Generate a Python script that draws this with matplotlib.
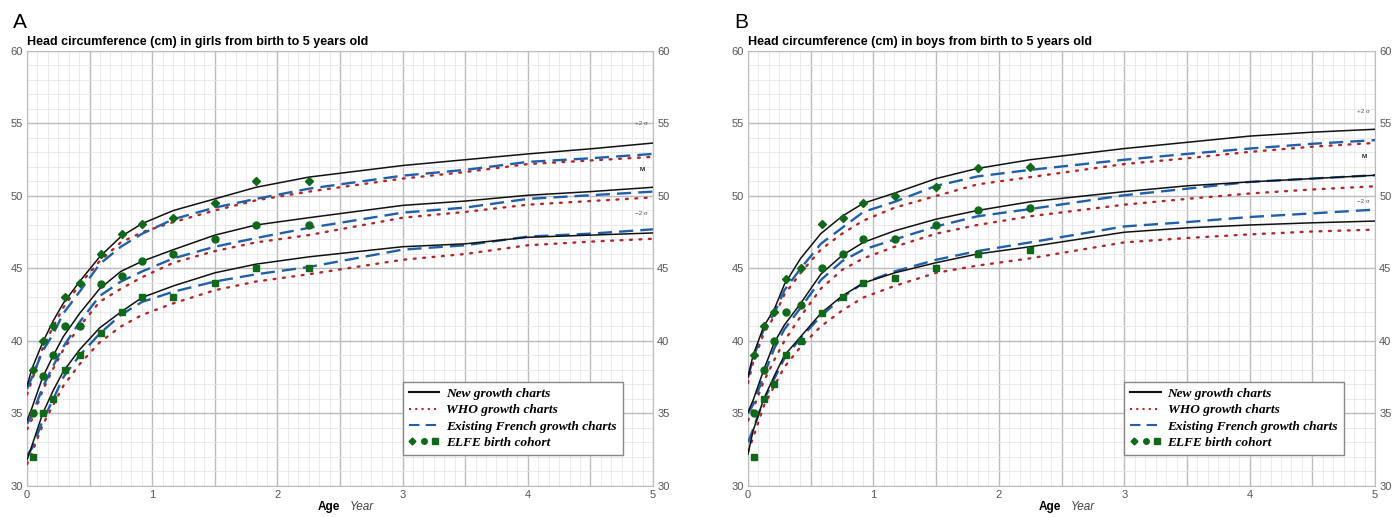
import matplotlib
matplotlib.use('Agg')
import matplotlib.pyplot as plt
from matplotlib.lines import Line2D
from matplotlib.legend_handler import HandlerTuple
from matplotlib.ticker import MultipleLocator, FuncFormatter

plt.rcParams['font.family'] = ['Liberation Sans', 'DejaVu Sans']

# ages (years) where the curves were read
AGES = [0, 0.04, 0.125, 0.21, 0.29, 0.42, 0.58, 0.75, 0.92, 1.17, 1.5, 1.83, 2.25, 3, 3.5, 4, 4.5, 5]

# girls: +2 SD, median, -2 SD
GIRLS_NEW_HI = [36.9, 38.1, 39.9, 41.4, 42.6, 44.1, 45.8, 47.2, 48.1, 49.0, 49.8, 50.6, 51.3, 52.1, 52.5, 52.9, 53.25, 53.65]
GIRLS_NEW_MED = [34.5, 35.4, 37.5, 39.0, 40.3, 41.9, 43.6, 44.8, 45.5, 46.3, 47.3, 48.0, 48.5, 49.35, 49.65, 50.05, 50.3, 50.6]
GIRLS_NEW_LO = [31.8, 32.8, 35.0, 36.6, 37.9, 39.4, 40.9, 42.0, 43.0, 43.8, 44.7, 45.3, 45.8, 46.5, 46.7, 47.15, 47.3, 47.45]
GIRLS_WHO_HI = [36.3, 37.3, 39.5, 41.0, 42.3, 43.9, 45.5, 46.8, 47.5, 48.2, 49.0, 49.7, 50.3, 51.2, 51.65, 52.2, 52.45, 52.7]
GIRLS_WHO_MED = [33.9, 34.6, 36.6, 38.1, 39.4, 41.0, 42.7, 43.6, 44.4, 45.4, 46.2, 46.8, 47.3, 48.5, 48.9, 49.4, 49.65, 49.9]
GIRLS_WHO_LO = [31.5, 32.3, 34.2, 35.6, 36.9, 38.4, 39.9, 41.0, 41.8, 42.6, 43.5, 44.1, 44.6, 45.6, 46.0, 46.6, 46.85, 47.05]
GIRLS_FR_HI = [36.7, 37.5, 39.3, 40.5, 41.9, 43.4, 45.3, 46.5, 47.4, 48.4, 49.2, 49.8, 50.5, 51.4, 51.8, 52.35, 52.6, 52.9]
GIRLS_FR_MED = [34.3, 34.9, 36.8, 38.3, 39.6, 41.3, 43.1, 44.1, 44.8, 45.7, 46.5, 47.1, 47.8, 48.85, 49.2, 49.8, 50.05, 50.3]
GIRLS_FR_LO = [32.1, 32.6, 34.5, 36.0, 37.5, 39.0, 40.5, 41.8, 42.7, 43.4, 44.1, 44.6, 45.1, 46.3, 46.6, 47.2, 47.4, 47.7]

# boys
BOYS_NEW_HI = [37.5, 39.0, 41.0, 42.2, 43.9, 45.7, 47.4, 48.6, 49.5, 50.2, 51.2, 51.9, 52.5, 53.27, 53.7, 54.13, 54.4, 54.6]
BOYS_NEW_MED = [35.1, 35.9, 38.0, 39.9, 41.1, 42.6, 44.6, 45.9, 46.8, 47.6, 48.4, 49.0, 49.6, 50.3, 50.7, 50.97, 51.2, 51.43]
BOYS_NEW_LO = [32.2, 33.8, 36.0, 37.6, 39.0, 40.3, 41.9, 43.1, 44.0, 44.7, 45.4, 46.0, 46.5, 47.5, 47.8, 48.0, 48.15, 48.27]
BOYS_WHO_HI = [37.1, 38.5, 40.5, 41.7, 43.2, 44.7, 46.3, 47.4, 48.3, 49.2, 50.0, 50.8, 51.3, 52.2, 52.6, 53.04, 53.4, 53.66]
BOYS_WHO_MED = [34.5, 35.3, 37.2, 38.7, 40.0, 41.7, 43.6, 44.9, 45.7, 46.5, 47.4, 48.0, 48.6, 49.4, 49.8, 50.17, 50.45, 50.67]
BOYS_WHO_LO = [32.4, 33.3, 35.5, 36.9, 38.2, 39.6, 41.0, 42.1, 43.0, 43.8, 44.7, 45.2, 45.7, 46.8, 47.1, 47.35, 47.55, 47.68]
BOYS_FR_HI = [37.5, 38.8, 40.8, 41.9, 43.5, 45.0, 46.7, 47.8, 48.9, 49.6, 50.7, 51.35, 51.8, 52.5, 52.9, 53.27, 53.6, 53.85]
BOYS_FR_MED = [35.0, 35.6, 37.6, 39.5, 40.8, 42.3, 44.2, 45.5, 46.3, 47.0, 47.9, 48.6, 49.1, 50.05, 50.5, 50.97, 51.2, 51.43]
BOYS_FR_LO = [33.0, 33.9, 35.9, 37.4, 38.8, 40.2, 41.7, 43.0, 44.0, 44.8, 45.6, 46.2, 46.8, 47.9, 48.2, 48.55, 48.8, 49.06]

# ELFE birth cohort points
ELFE_AGES = [0.045, 0.128, 0.21, 0.30, 0.42, 0.59, 0.755, 0.92, 1.17, 1.5, 1.83, 2.25]
GIRLS_ELFE_HI = [38.0, 40.0, 41.0, 43.0, 44.0, 46.0, 47.4, 48.1, 48.5, 49.5, 51.0, 51.0]
GIRLS_ELFE_MED = [35.0, 37.6, 39.0, 41.0, 41.0, 43.9, 44.5, 45.5, 46.0, 47.0, 48.0, 48.0]
GIRLS_ELFE_LO = [32.0, 35.0, 36.0, 38.0, 39.0, 40.55, 42.0, 43.0, 43.0, 44.0, 45.0, 45.0]
BOYS_ELFE_HI = [39.0, 41.0, 42.0, 44.24, 45.0, 48.04, 48.5, 49.5, 50.0, 50.6, 51.96, 52.0]
BOYS_ELFE_MED = [35.0, 38.0, 40.0, 42.0, 42.5, 45.0, 46.0, 47.05, 47.05, 48.0, 49.0, 49.2]
BOYS_ELFE_LO = [32.0, 36.0, 37.0, 39.0, 40.0, 41.9, 43.0, 44.0, 44.35, 45.0, 46.0, 46.25]

BLACK = '#111111'
RED = '#b0272a'
BLUE = '#2160a8'
GREEN = '#10691a'


def draw_panel(ax, new, who, fr, elfe, title, letter, sigma_y):
    for y in who:
        ax.plot(AGES, y, color=RED, lw=1.7, linestyle=(0, (0.8, 3.2)),
                dash_capstyle='round', zorder=3)
    for y in fr:
        ax.plot(AGES, y, color=BLUE, lw=1.7, linestyle=(0, (6, 3)), zorder=4)
    for y in new:
        ax.plot(AGES, y, color=BLACK, lw=1.1, zorder=5)
    for y, m in zip(elfe, ['D', 'o', 's']):
        ax.plot(ELFE_AGES, y, linestyle='none', marker=m, color=GREEN,
                markersize=4.2 if m == 'D' else 5, zorder=6)

    ax.set_xlim(0, 5)
    ax.set_ylim(30, 60)
    ax.xaxis.set_major_locator(MultipleLocator(0.5))
    ax.xaxis.set_minor_locator(MultipleLocator(1 / 12))
    ax.yaxis.set_major_locator(MultipleLocator(5))
    ax.yaxis.set_minor_locator(MultipleLocator(1))
    ax.xaxis.set_major_formatter(FuncFormatter(
        lambda v, p: f'{int(round(v))}' if abs(v - round(v)) < 1e-6 else ''))
    ax.grid(which='major', color='#bcbcbc', lw=1.0)
    ax.grid(which='minor', color='#e6e6e6', lw=0.6)
    ax.set_axisbelow(True)
    ax.tick_params(which='both', length=0, labelsize=8, labelcolor='#555555',
                   labelright=True, pad=3)
    for s in ax.spines.values():
        s.set_color('#bdbdbd')

    ax.set_title(title, loc='left', fontsize=9, fontweight='bold', pad=4)
    ax.text(-0.022, 1.052, letter, transform=ax.transAxes, fontsize=15,
            va='baseline', ha='left')
    ax.text(0.5, -0.048, 'Age', transform=ax.transAxes, fontsize=8.5,
            fontweight='bold', ha='right', va='center')
    ax.text(0.515, -0.048, 'Year', transform=ax.transAxes, fontsize=8.5,
            style='italic', color='#444444', ha='left', va='center')

    for lab, yv, bold in zip(['+2 σ', 'M', '−2 σ'], sigma_y, [False, True, False]):
        ax.text(4.91, yv, lab, fontsize=4.5, color='#555555' if not bold else '#222222',
                fontweight='bold' if bold else 'normal', ha='center', va='center')

    handles = [
        Line2D([], [], color=BLACK, lw=1.5),
        Line2D([], [], color=RED, lw=1.5, linestyle=(0, (1, 2))),
        Line2D([], [], color=BLUE, lw=1.5, linestyle=(0, (5, 3))),
        (Line2D([], [], color=GREEN, marker='D', markersize=3.5, linestyle='none'),
         Line2D([], [], color=GREEN, marker='o', markersize=4, linestyle='none'),
         Line2D([], [], color=GREEN, marker='s', markersize=4, linestyle='none')),
    ]
    labels = ['New growth charts', 'WHO growth charts',
              'Existing French growth charts', 'ELFE birth cohort']
    leg = ax.legend(handles, labels, loc='lower left', bbox_to_anchor=(0.60, 0.071),
                    handler_map={tuple: HandlerTuple(ndivide=None, pad=0.3)},
                    prop={'family': 'Liberation Serif', 'style': 'italic',
                          'weight': 'bold', 'size': 9.6},
                    frameon=True, fancybox=False, framealpha=1, edgecolor='#888888',
                    handlelength=2.3, handletextpad=0.5, labelspacing=0.3,
                    borderpad=0.45, borderaxespad=0)
    leg.get_frame().set_linewidth(1.0)
    leg.set_zorder(10)


fig = plt.figure(figsize=(14, 5.17), dpi=100)
ax1 = fig.add_axes([0.0193, 0.06, 0.4471, 0.8414])
ax2 = fig.add_axes([0.5343, 0.06, 0.4479, 0.8414])

draw_panel(ax1,
           [GIRLS_NEW_HI, GIRLS_NEW_MED, GIRLS_NEW_LO],
           [GIRLS_WHO_HI, GIRLS_WHO_MED, GIRLS_WHO_LO],
           [GIRLS_FR_HI, GIRLS_FR_MED, GIRLS_FR_LO],
           [GIRLS_ELFE_HI, GIRLS_ELFE_MED, GIRLS_ELFE_LO],
           'Head circumference (cm) in girls from birth to 5 years old', 'A',
           [55.0, 51.85, 48.76])
draw_panel(ax2,
           [BOYS_NEW_HI, BOYS_NEW_MED, BOYS_NEW_LO],
           [BOYS_WHO_HI, BOYS_WHO_MED, BOYS_WHO_LO],
           [BOYS_FR_HI, BOYS_FR_MED, BOYS_FR_LO],
           [BOYS_ELFE_HI, BOYS_ELFE_MED, BOYS_ELFE_LO],
           'Head circumference (cm) in boys from birth to 5 years old', 'B',
           [55.8, 52.7, 49.6])

fig.savefig('out.png', dpi=100)
plt.close(fig)
